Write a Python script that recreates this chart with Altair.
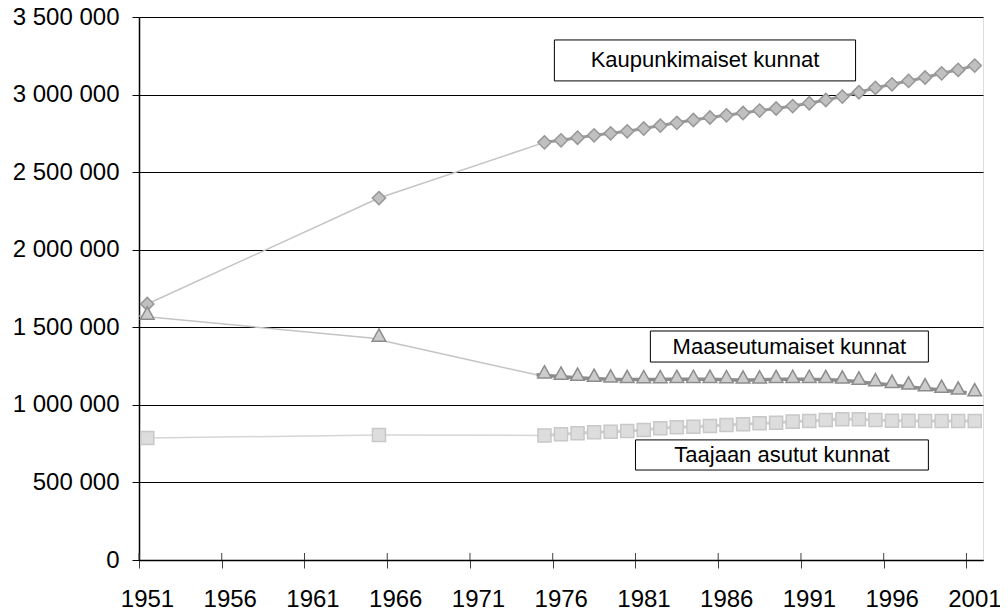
import altair as alt
import pandas as pd

# ---- data ----
years = [1951, 1965, 1975, 1976, 1977, 1978, 1979, 1980, 1981, 1982, 1983, 1984,
         1985, 1986, 1987, 1988, 1989, 1990, 1991, 1992, 1993, 1994, 1995, 1996,
         1997, 1998, 1999, 2000, 2001]

kaupunkimaiset = [1650000, 2333000, 2692000, 2705000, 2722000, 2737000, 2750000,
                  2763000, 2781000, 2800000, 2818000, 2836000, 2852000, 2866000,
                  2881000, 2897000, 2910000, 2926000, 2944000, 2965000, 2987000,
                  3015000, 3043000, 3066000, 3088000, 3110000, 3137000, 3159000,
                  3187000]

maaseutumaiset = [1592000, 1450000, 1213000, 1205000, 1198000, 1191000, 1186000,
                  1183000, 1182000, 1182000, 1184000, 1184000, 1184000, 1182000,
                  1180000, 1180000, 1183000, 1184000, 1184000, 1183000, 1180000,
                  1173000, 1162000, 1152000, 1141000, 1130000, 1120000, 1109000,
                  1098000]

taajaan = [786000, 806000, 803000, 810000, 817000, 823000, 827000, 832000, 838000,
           849000, 855000, 859000, 864000, 870000, 875000, 881000, 885000, 892000,
           896000, 902000, 907000, 907000, 902000, 898000, 898000, 896000, 896000,
           896000, 896000]

series_names = ["Kaupunkimaiset kunnat", "Maaseutumaiset kunnat", "Taajaan asutut kunnat"]

x_ticks = [1951, 1956, 1961, 1966, 1971, 1976, 1981, 1986, 1991, 1996, 2001]
y_ticks = [0, 500000, 1000000, 1500000, 2000000, 2500000, 3000000, 3500000]

# label boxes (data units)
box_text = series_names
box_x = [1976.1, 1981.9, 1981.0]
box_x2 = [1994.3, 1998.7, 1998.7]
box_y = [3352000, 1476000, 774000]
box_y2 = [3088000, 1276000, 580000]

FONT = "Liberation Sans"

rows = []
for name, vals in zip(series_names, [kaupunkimaiset, maaseutumaiset, taajaan]):
    for yr, v in zip(years, vals):
        if yr <= 1975:
            rows.append({"series": name, "year": yr, "value": v, "seg": "a"})
        if yr >= 1975:
            rows.append({"series": name, "year": yr, "value": v, "seg": "b"})
df = pd.DataFrame(rows)

boxes = pd.DataFrame({"text": box_text, "x": box_x, "x2": box_x2, "y": box_y, "y2": box_y2})
ticks_df = pd.DataFrame({"t": x_ticks})

xscale = alt.Scale(domain=[1951, 2002], nice=False, zero=False)
yscale = alt.Scale(domain=[0, 3500000], nice=False, zero=False)

xaxis = alt.Axis(values=x_ticks, format="d", labelOffset=8, tickSize=8,
                 tickColor="#404040", tickWidth=1, domainColor="black", domainWidth=1.5,
                 labelFontSize=24, labelFont=FONT, labelColor="black", labelPadding=19,
                 grid=False, title=None, labelFlush=False, labelOverlap=False)
yaxis = alt.Axis(values=y_ticks,
                 labelExpr="replace(replace(format(datum.value, ','), ',', ' '), ',', ' ')",
                 tickSize=7, tickColor="black", tickWidth=1, domainColor="black",
                 domainWidth=1.5, grid=True, gridColor="black", gridWidth=1,
                 labelFontSize=24, labelFont=FONT, labelColor="black", labelPadding=13,
                 title=None, labelFlush=False, labelOverlap=False)

base = alt.Chart(df).transform_calculate(xpos="datum.year + 0.5")
X = alt.X("xpos:Q", scale=xscale, axis=xaxis)
Y = alt.Y("value:Q", scale=yscale, axis=yaxis)

styles = {
    "Kaupunkimaiset kunnat": dict(shape="diamond", fill="#c0c0c0", stroke="#979797",
                                  thin="#c4c4c4", thick="#999999", tw=3, size=175,
                                  xo=0, yo=0),
    "Maaseutumaiset kunnat": dict(shape="M0,-0.9L1,0.9L-1,0.9Z", fill="#cccccc",
                                  stroke="#8c8c8c", thin="#c4c4c4", thick="#8c8c8c",
                                  tw=3.5, size=185, xo=-8, yo=3),
    "Taajaan asutut kunnat": dict(shape="square", fill="#dddddd", stroke="#c8c8c8",
                                  thin="#d6d6d6", thick="#cfcfcf", tw=3, size=170,
                                  xo=0, yo=0),
}

layers = []
# inner half of the crossing x ticks
layers.append(
    alt.Chart(ticks_df).mark_rule(color="#404040", strokeWidth=1).encode(
        x=alt.X("t:Q", scale=xscale, axis=xaxis),
        y=alt.value(536), y2=alt.value(543))
)
for name in series_names:
    s = styles[name]
    sub = base.transform_filter(alt.datum.series == name)
    lo = {}
    if s["xo"]:
        lo["xOffset"] = s["xo"]
    if s["yo"]:
        lo["yOffset"] = s["yo"]
    layers.append(sub.transform_filter(alt.datum.seg == "a").mark_line(
        color=s["thin"], strokeWidth=1.5, **lo).encode(x=X, y=Y))
    layers.append(sub.transform_filter(alt.datum.seg == "b").mark_line(
        color=s["thick"], strokeWidth=s["tw"], **lo).encode(x=X, y=Y))
for name in series_names:
    s = styles[name]
    pts = base.transform_filter(alt.datum.series == name).transform_filter(
        (alt.datum.seg == "b") | (alt.datum.year < 1975))
    layers.append(pts.mark_point(shape=s["shape"], filled=True, fill=s["fill"],
                                 stroke=s["stroke"], strokeWidth=1.5, size=s["size"],
                                 opacity=1).encode(x=X, y=Y))

layers.append(
    alt.Chart(boxes).mark_rect(fill="white", stroke="black", strokeWidth=1).encode(
        x=alt.X("x:Q", scale=xscale, axis=xaxis), x2="x2:Q",
        y=alt.Y("y:Q", scale=yscale, axis=yaxis), y2="y2:Q")
)
layers.append(
    alt.Chart(boxes).transform_calculate(cx="(datum.x + datum.x2) / 2",
                                         cy="(datum.y + datum.y2) / 2")
    .mark_text(font=FONT, fontSize=22, color="black", align="center", baseline="middle")
    .encode(x=alt.X("cx:Q", scale=xscale, axis=xaxis),
            y=alt.Y("cy:Q", scale=yscale, axis=yaxis), text="text:N")
)

chart = alt.layer(*layers).properties(
    width=844, height=543,
    autosize=alt.AutoSizeParams(type="none"),
    padding={"left": 131, "top": 9, "right": 17, "bottom": 52},
).configure_view(stroke="black", strokeWidth=1.2).configure(background="white")

chart.save("out.html", embed_options={"renderer": "svg", "actions": False})
